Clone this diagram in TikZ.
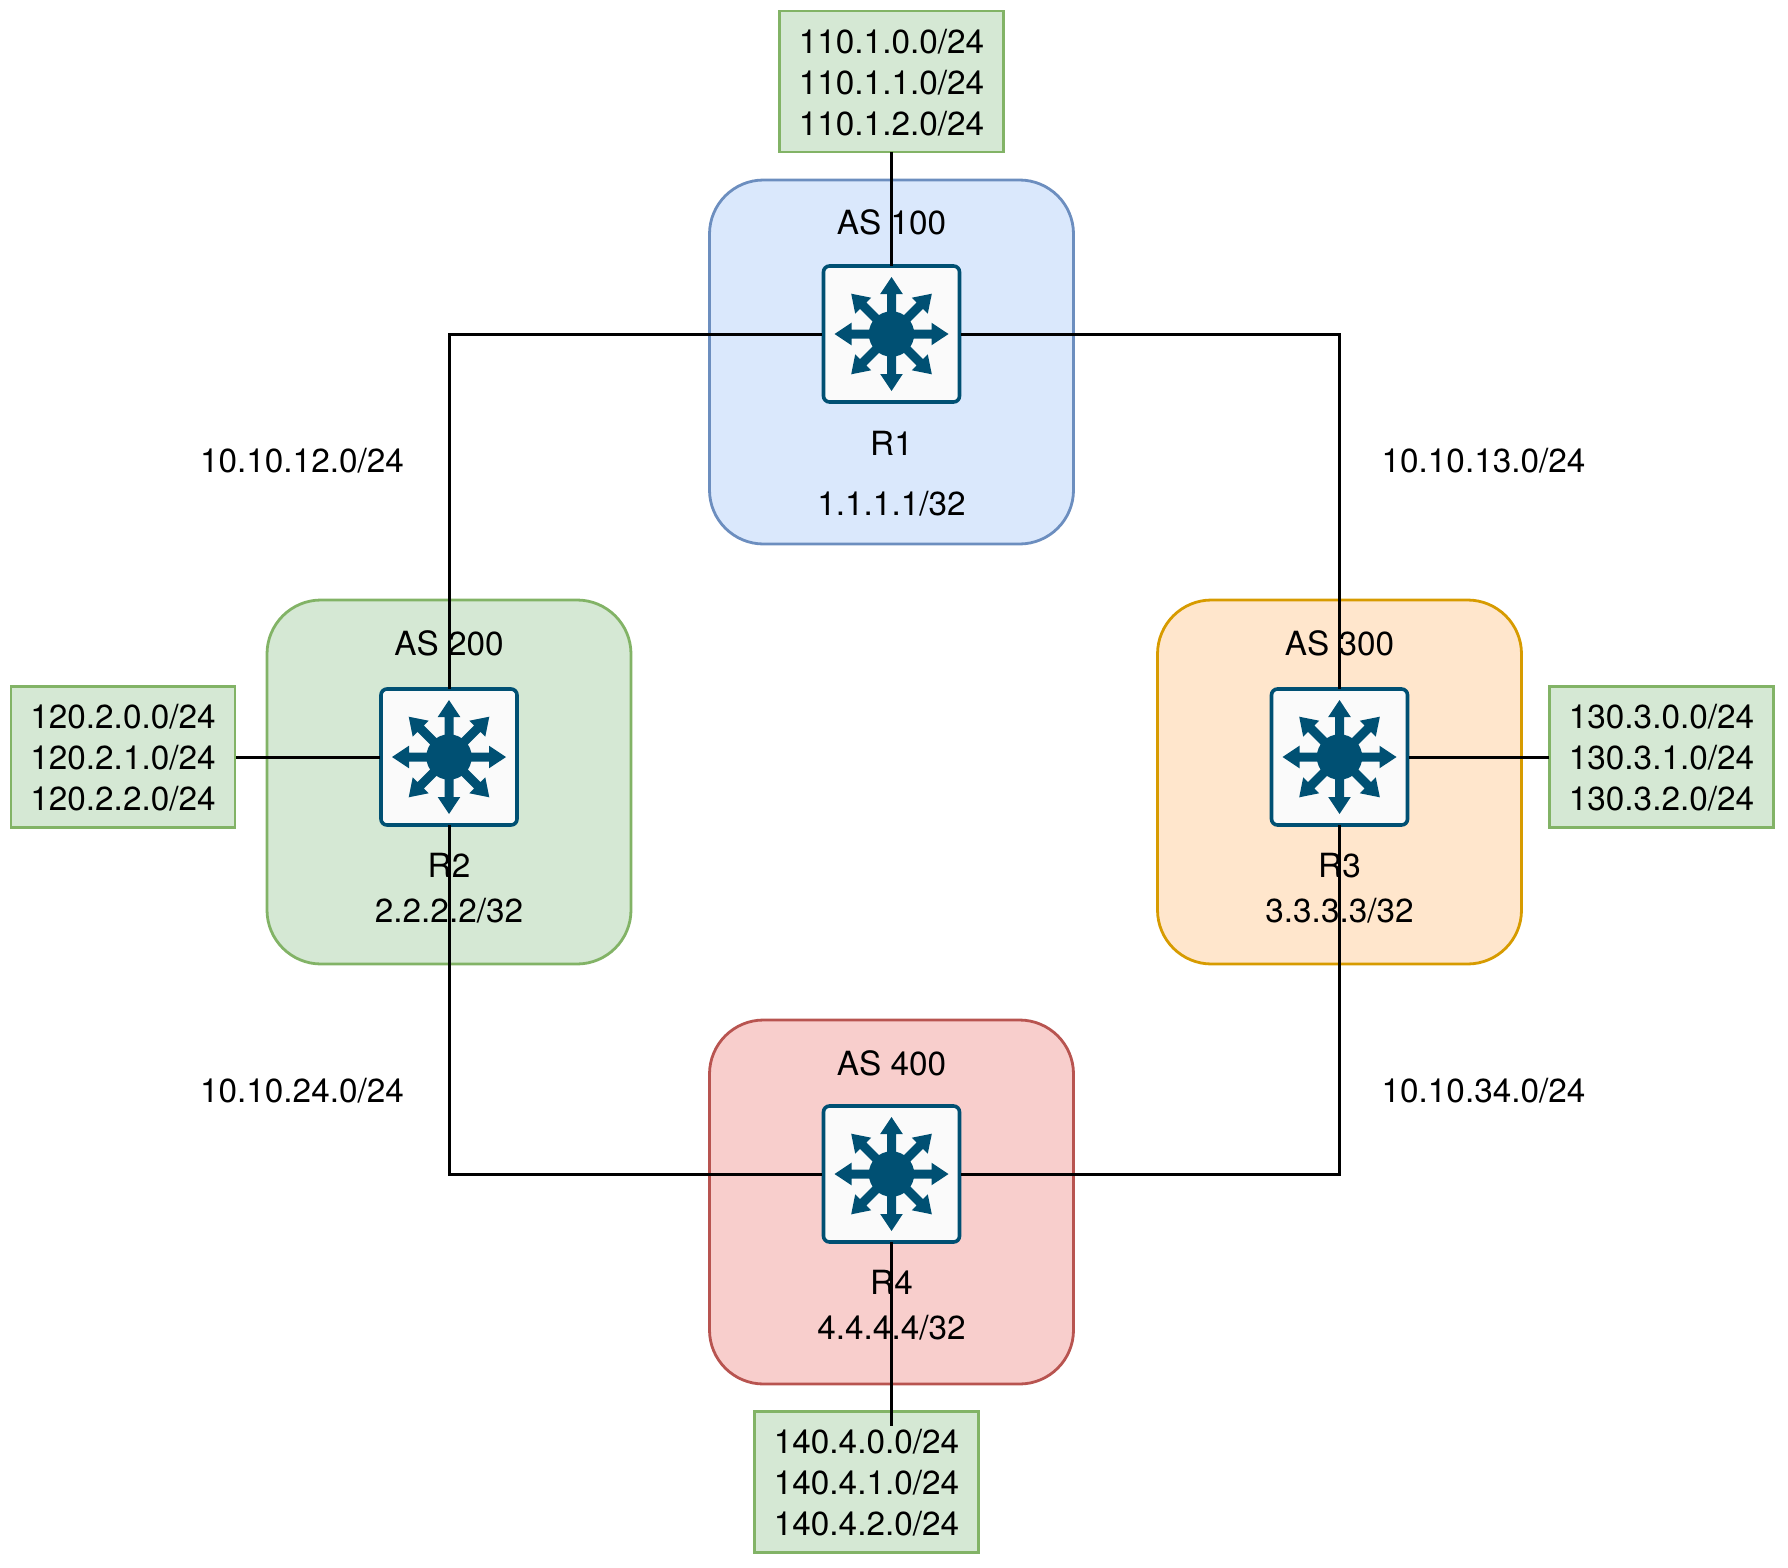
\documentclass[tikz,border=0pt]{standalone}
\usepackage{fontspec}
\setmainfont{TeX Gyre Heros}
\definecolor{blueF}{HTML}{DAE8FC}\definecolor{blueD}{HTML}{6C8EBF}
\definecolor{greenF}{HTML}{D5E8D4}\definecolor{greenD}{HTML}{82B366}
\definecolor{orangeF}{HTML}{FFE6CC}\definecolor{orangeD}{HTML}{D79B00}
\definecolor{redF}{HTML}{F8CECC}\definecolor{redD}{HTML}{B85450}
\definecolor{rtr}{HTML}{005073}\definecolor{rtrF}{HTML}{FAFAFA}
\newcommand{\topsp}{\rule{0pt}{26pt}}
\tikzset{
  x=1pt,y=-1pt,
  txt/.style={font=\fontsize{33.3}{41}\selectfont,inner sep=0,outer sep=0,anchor=base,text=black},
  asbox/.style={rectangle,rounded corners=54,minimum width=364,minimum height=364,inner sep=0,outer sep=0,line width=2.8},
  netbox/.style={rectangle,draw=greenD,fill=greenF,line width=2.8,minimum width=224,minimum height=141,inner sep=0,outer sep=0,outer xsep=1,align=center,font=\fontsize{33.3}{41}\selectfont},
  router/.style={rectangle,draw=rtr,fill=rtrF,line width=3.6,rounded corners=6,minimum width=136,minimum height=136,inner sep=0,outer sep=0,outer xsep=1.5},
  wire/.style={line width=3,black},
}
\newcommand{\rtricon}[1]{%
  \fill[rtr] (#1) circle[radius=22.7];
  \foreach \a in {0,45,...,315}{
    \fill[rtr,shift={(#1)},rotate=\a] (0,-4.5)--(40,-4.5)--(40,-11.3)--(57,0)--(40,11.3)--(40,4.5)--(0,4.5)--cycle;
  }%
}
\begin{document}
\begin{tikzpicture}
\useasboundingbox (0,0) rectangle (1788,1568);
% AS areas
\node[asbox,draw=blueD,fill=blueF]     (as1) at (891.5,362) {};
\node[asbox,draw=greenD,fill=greenF]   (as2) at (449,782) {};
\node[asbox,draw=orangeD,fill=orangeF] (as3) at (1339.5,782) {};
\node[asbox,draw=redD,fill=redF]       (as4) at (891.5,1202) {};
% routers
\node[router] (R1) at (891.5,334) {}; \rtricon{R1}
\node[router] (R2) at (449,757) {};   \rtricon{R2}
\node[router] (R3) at (1339.5,757) {};  \rtricon{R3}
\node[router] (R4) at (891.5,1174) {};\rtricon{R4}
% prefix boxes
\node[netbox] (n1) at (891.5,81.5) {\topsp 110.1.0.0/24\\110.1.1.0/24\\110.1.2.0/24};
\node[netbox] (n2) at (123,757) {\topsp 120.2.0.0/24\\120.2.1.0/24\\120.2.2.0/24};
\node[netbox] (n3) at (1661.5,757) {\topsp 130.3.0.0/24\\130.3.1.0/24\\130.3.2.0/24};
\node[netbox] (n4) at (866.5,1482) {\topsp 140.4.0.0/24\\140.4.1.0/24\\140.4.2.0/24};
\coordinate (tap4) at (891.5,1426);
% connectors
\draw[wire] (R1.west) -| (R2.north);
\draw[wire] (R1.east) -| (R3.north);
\draw[wire] (R4.west) -| (R2.south);
\draw[wire] (R4.east) -| (R3.south);
\draw[wire] (n1.south -| R1.north) -- (R1.north);
\draw[wire] (n2.east) -- (R2.west);
\draw[wire] (R3.east) -- (n3.west);
\draw[wire] (R4.south) -- (tap4);
% labels
\node[txt] (t1) at (891.5,234.5) {AS 100};
\node[txt] (t2) at (449,655) {AS 200};
\node[txt] (t3) at (1339.5,655) {AS 300};
\node[txt] (t4) at (891.5,1075.5) {AS 400};
\node[txt] (l1) at (891.5,455) {R1};
\node[txt] (a1) at (891.5,515) {1.1.1.1/32};
\node[txt] (l2) at (449,877) {R2};
\node[txt] (a2) at (449,922.5) {2.2.2.2/32};
\node[txt] (l3) at (1339.5,877) {R3};
\node[txt] (a3) at (1339.5,922.5) {3.3.3.3/32};
\node[txt] (l4) at (891.5,1294) {R4};
\node[txt] (a4) at (891.5,1339.5) {4.4.4.4/32};
\node[txt] (s12) at (302,472) {10.10.12.0/24};
\node[txt] (s13) at (1483.5,472) {10.10.13.0/24};
\node[txt] (s24) at (302,1102) {10.10.24.0/24};
\node[txt] (s34) at (1483.5,1102) {10.10.34.0/24};
\end{tikzpicture}
\end{document}
